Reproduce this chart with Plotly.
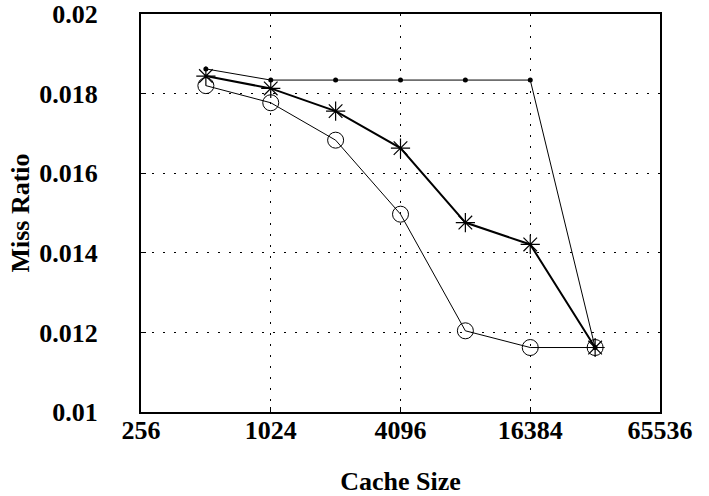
import plotly.graph_objects as go

cache_sizes = [512, 1024, 2048, 4096, 8192, 16384, 32768]
dots_series = [0.01862, 0.01834, 0.01834, 0.01834, 0.01834, 0.01834, 0.01162]
star_series = [0.01844, 0.01813, 0.01756, 0.01663, 0.01476, 0.01421, 0.01162]
circle_series = [0.01820, 0.01777, 0.01683, 0.01497, 0.01204, 0.01162, 0.01162]

x_ticks = [256, 1024, 4096, 16384, 65536]
x_tick_labels = ["256", "1024", "4096", "16384", "65536"]
y_ticks = [0.01, 0.012, 0.014, 0.016, 0.018, 0.02]
y_tick_labels = ["0.01", "0.012", "0.014", "0.016", "0.018", "0.02"]

font_family = "Liberation Serif"
fsize = 26

fig = go.Figure()
fig.add_trace(go.Scatter(x=cache_sizes, y=dots_series, mode="lines+markers",
                         line=dict(color="black", width=1),
                         marker=dict(symbol="circle", size=5, color="black")))
fig.add_trace(go.Scatter(x=cache_sizes, y=circle_series, mode="lines+markers",
                         line=dict(color="black", width=1),
                         marker=dict(symbol="circle-open", size=16, color="black",
                                     line=dict(width=1, color="black"))))
fig.add_trace(go.Scatter(x=cache_sizes, y=star_series, mode="lines+markers",
                         line=dict(color="black", width=2),
                         marker=dict(symbol="asterisk-open", size=16, color="black",
                                     line=dict(width=1.2, color="black"))))

fig.update_layout(
    width=709, height=496,
    margin=dict(l=141, r=49, t=14, b=84),
    plot_bgcolor="white", paper_bgcolor="white",
    showlegend=False,
    font=dict(family=font_family, size=fsize, color="black"),
)
fig.update_xaxes(
    type="log", range=[2.40824, 4.81648], automargin=False,
    tickvals=x_ticks, ticktext=x_tick_labels,
    tickfont=dict(family=font_family, size=fsize, color="black", weight="bold"),
    showgrid=True, gridcolor="black", griddash="2px,9px", gridwidth=1,
    showline=True, linecolor="black", linewidth=2, mirror=True,
    ticks="inside", ticklen=5, tickwidth=1, tickcolor="black",
    ticklabelstandoff=-6, zeroline=False,
    title=dict(text="<b>Cache Size</b>", font=dict(family=font_family, size=fsize, color="black"),
               standoff=29),
)
fig.update_yaxes(
    range=[0.01, 0.02], automargin=False,
    tickvals=y_ticks, ticktext=y_tick_labels,
    tickfont=dict(family=font_family, size=fsize, color="black", weight="bold"),
    showgrid=True, gridcolor="black", griddash="2px,9px", gridwidth=1,
    showline=True, linecolor="black", linewidth=2, mirror=True,
    ticks="inside", ticklen=5, tickwidth=1, tickcolor="black",
    ticklabelstandoff=36, zeroline=False,
    title=dict(text="<b>Miss Ratio</b>", font=dict(family=font_family, size=fsize, color="black"),
               standoff=2),
)

fig.write_html("out.html")
